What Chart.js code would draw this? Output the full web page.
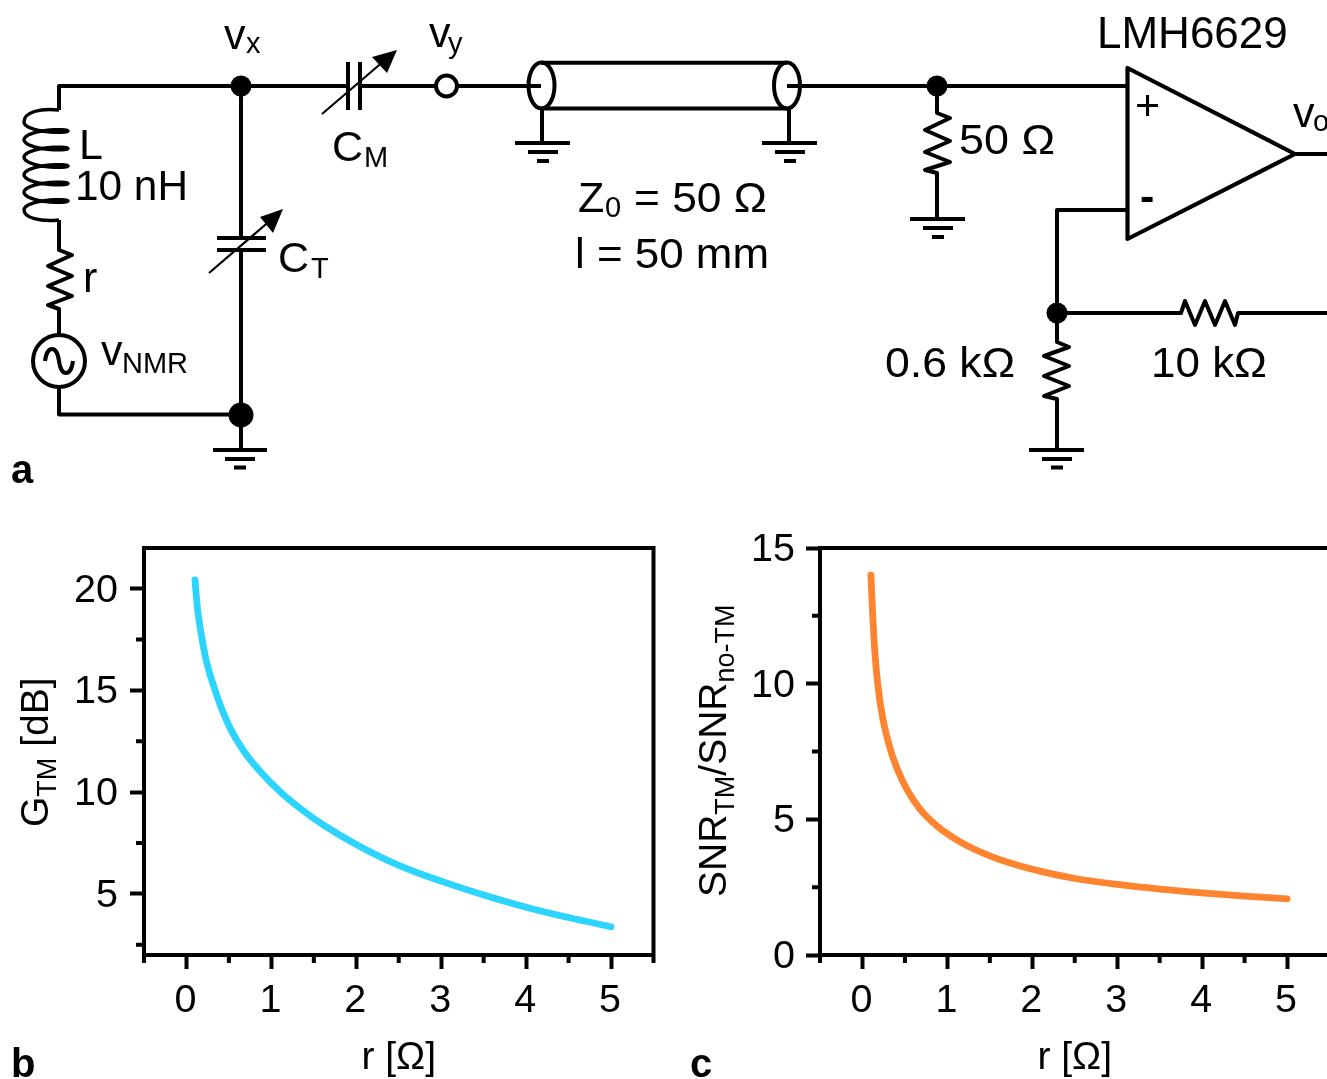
<!DOCTYPE html>
<html>
<head>
<meta charset="utf-8">
<script src="https://cdn.jsdelivr.net/npm/chart.js@4"></script>
<style>
html,body{margin:0;padding:0;background:#fff;width:1327px;height:1079px;overflow:hidden}
#stage{position:relative;width:1327px;height:1079px;overflow:hidden}
canvas{position:absolute}
#art{position:absolute;left:0;top:0;pointer-events:none}
#art text{font-family:"Liberation Sans",Arial,sans-serif;font-size:43px;fill:#000}
#art .w{fill:none;stroke:#000;stroke-width:4;stroke-linejoin:round}
#art .t{fill:none;stroke:#000;stroke-width:2.2}
#art .d{fill:#000;stroke:none}
#art text.s{font-size:29px}
#art text.p{font-size:40px;font-weight:bold}
#art text.y{font-size:39px}
</style>
</head>
<body>
<div id="stage">
<canvas id="chartB" width="680" height="579" style="left:0;top:500px"></canvas>
<canvas id="chartC" width="680" height="579" style="left:680px;top:500px"></canvas>
<svg id="art" width="1327" height="1079" viewBox="0 0 1327 1079" xmlns="http://www.w3.org/2000/svg">
  <!-- left loop -->
  <path class="w" d="M59 110 V86 H348 M360 86 H435 M458 86 H541"/>
  <path class="w" id="coil" style="stroke-width:3.4" d=""/>
  <path class="w" d="M59 220 V250 L72 255 L48 266 L72 276 L48 286 L72 296 L48 305 L59 309 V335"/>
  <circle class="w" cx="59" cy="361" r="26"/>
  <path class="w" d="M45 361 C47 345 57 345 59 361 C61 377 71 377 73 361"/>
  <path class="w" d="M59 387 V414.500 H241"/>
  <circle class="d" cx="241" cy="86" r="10.5"/>
  <circle class="d" cx="241" cy="415" r="12.5"/>
  <path class="w" d="M241 86 V238 M241 250 V450"/>
  <path class="w" d="M217 238 H266 M217 250 H266"/>
  <path class="t" d="M209 273 L272 219"/>
  <path class="d" d="M283 209 L260 217 L273 233 Z"/>
  <path class="w" d="M213 450 H267 M225 459 H255 M234 467.500 H246"/>
  <!-- matching capacitor -->
  <path class="w" d="M348 62 V110 M360 62 V110"/>
  <path class="t" d="M322 114 L385 60"/>
  <path class="d" d="M397 50 L372 57 L387 73 Z"/>
  <circle class="w" cx="446.500" cy="86" r="10.500"/>
  <!-- coax -->
  <ellipse class="w" cx="541.500" cy="85.500" rx="13" ry="23"/>
  <ellipse class="w" cx="787" cy="85.500" rx="13" ry="23"/>
  <path class="w" d="M541 62.800 H787 M541 108.400 H787"/>
  <path class="w" d="M787 86 H1127"/>
  <path class="w" d="M542 108 V143 M515 143 H570 M528 152 H558 M537 161 H549"/>
  <path class="w" d="M789 108 V143 M762 143 H817 M775 152 H805 M784 161 H796"/>
  <!-- 50 ohm -->
  <circle class="d" cx="937" cy="86" r="10.500"/>
  <path class="w" d="M937 86 V113 L950 118 L925 130 L950 141 L925 152 L950 162 L925 170 L937 173 V219 M910 219 H965 M923 228 H953 M932 237 H944"/>
  <!-- op-amp -->
  <path class="w" style="stroke-width:4.2" d="M1127.500 68 V239 L1295 154 Z"/>
  <path class="w" d="M1295 154 H1327 M1127 210 H1057 V313"/>
  <circle class="d" cx="1057" cy="313" r="10.500"/>
  <path class="w" d="M1057 313 H1181 L1185 301 L1195 325 L1205 301 L1215 325 L1225 301 L1235 325 L1238 313 H1327"/>
  <path class="w" d="M1057 313 V342 L1069 347 L1044 356 L1069 366 L1044 376 L1069 386 L1044 396 L1057 399 V450 M1029 450 H1084 M1042 459 H1072 M1051 467.500 H1063"/>
  <!-- labels -->
  <text x="224" y="49">v</text><text class="s" x="246" y="53">x</text>
  <text x="429" y="47">v</text><text class="s" x="448" y="53">y</text>
  <text x="332" y="161">C</text><text class="s" x="364" y="167">M</text>
  <text x="278" y="272">C</text><text class="s" x="311" y="278">T</text>
  <text x="79" y="159">L</text>
  <text x="75" y="200" textLength="113" lengthAdjust="spacingAndGlyphs">10 nH</text>
  <text x="83" y="292">r</text>
  <text x="101" y="365">v</text><text class="s" x="122" y="373">NMR</text>
  <text x="578" y="212">Z</text><text class="s" x="605" y="217">0</text><text x="634" y="212" textLength="133" lengthAdjust="spacingAndGlyphs">= 50 Ω</text>
  <text x="575" y="268" textLength="194" lengthAdjust="spacingAndGlyphs">l = 50 mm</text>
  <text x="1097" y="48" style="font-size:44px">LMH6629</text>
  <text x="1293" y="127">v</text><text class="s" x="1313" y="131">o</text>
  <text x="1135" y="120">+</text><text x="1140" y="211" style="font-weight:bold">-</text>
  <text x="959" y="154" textLength="96" lengthAdjust="spacingAndGlyphs">50 Ω</text>
  <text x="885" y="377" textLength="130" lengthAdjust="spacingAndGlyphs">0.6 kΩ</text>
  <text x="1151" y="377" textLength="116" lengthAdjust="spacingAndGlyphs">10 kΩ</text>
  <!-- panel letters -->
  <text class="p" x="11" y="483">a</text>
  <text class="p" x="11" y="1077">b</text>
  <text class="p" x="690" y="1077">c</text>
  <!-- y axis titles with subscripts -->
  <text class="y" transform="translate(48,827) rotate(-90)">G<tspan dy="8" style="font-size:27px">TM</tspan><tspan dy="-8"> [dB]</tspan></text>
  <text class="y" transform="translate(726,897) rotate(-90)">SNR<tspan dy="8" style="font-size:27px">TM</tspan><tspan dy="-8">/SNR</tspan><tspan dy="8" style="font-size:27px">no-TM</tspan></text>
</svg>
</div>
<script>
// Panel b: tuned-matching gain
const gainR  = [0.10,0.13,0.17,0.23,0.31,0.41,0.52,0.68,0.88,1.11,1.35,1.62,2.01,2.50,3.00,3.50,4.00,4.50,5.00];
const gainDb = [20.43,19.02,17.87,16.52,15.35,14.15,13.10,11.99,10.97,10.00,9.17,8.37,7.41,6.41,5.63,4.95,4.35,3.84,3.39];
// Panel c: SNR ratio
const snrR     = [0.10,0.12,0.145,0.18,0.23,0.31,0.40,0.53,0.68,0.88,1.15,1.47,1.78,2.09,2.50,3.00,3.50,4.00,4.50,5.00];
const snrRatio = [14.00,12.58,11.20,9.98,8.88,7.78,6.93,6.07,5.37,4.75,4.17,3.69,3.35,3.09,2.82,2.60,2.43,2.29,2.17,2.07];
// Axis ticks
const xMajor = [0,1,2,3,4,5];
const xMinor = [-0.5,0.5,1.5,2.5,3.5,4.5,5.5];
const yMajorB = [5,10,15,20];
const yMinorB = [2.5,7.5,12.5,17.5];
const yMajorC = [0,5,10,15];
const yMinorC = [2.5,7.5,12.5];
const xLabel = 'r [Ω]';
const gainColor = '#2CD4FF';
const snrColor = '#FF8430';

// coil (schematic only)
(function(){
  let d = 'M59 110 C40 108 24 112 24 122';
  for (let t = 0; t <= 10*Math.PI + 0.001; t += Math.PI/16) {
    const x = 46 - 22*Math.cos(t);
    const y = 131 + 17.5*(t-Math.PI)/(2*Math.PI) + 5*Math.sin(t);
    d += ' L'+x.toFixed(2)+' '+y.toFixed(2);
  }
  d += ' C24 218 40 222 59 220';
  document.getElementById('coil').setAttribute('d', d);
})();

const AXIS_W = 4;
const frameAndMinor = {
  id:'frameAndMinor',
  afterDraw(chart, args, opts){
    const {ctx, chartArea:a, scales:{x,y}} = chart;
    ctx.save();
    ctx.strokeStyle = '#000';
    ctx.lineWidth = AXIS_W;
    ctx.beginPath();
    ctx.moveTo(a.left,a.top); ctx.lineTo(a.right,a.top); ctx.lineTo(a.right,a.bottom);
    ctx.stroke();
    ctx.beginPath();
    opts.xMinor.forEach(v=>{const p=x.getPixelForValue(v); ctx.moveTo(p,a.bottom); ctx.lineTo(p,a.bottom+8);});
    opts.yMinor.forEach(v=>{const p=y.getPixelForValue(v); ctx.moveTo(a.left,p); ctx.lineTo(a.left-8,p);});
    ctx.stroke();
    ctx.restore();
  }
};

function makeChart(id, xs, ys, color, yMin, yMax, yMajor, yMinor, leftW, tickPad){
  const axisFont = {family:'"Liberation Sans", Arial, sans-serif', size:39.5};
  return new Chart(document.getElementById(id), {
    type:'scatter',
    data:{datasets:[{
      data: xs.map((v,i)=>({x:v,y:ys[i]})),
      showLine:true, pointRadius:0, borderColor:color, backgroundColor:color,
      borderWidth:6.8, borderCapStyle:'round', borderJoinStyle:'round',
      cubicInterpolationMode:'monotone', clip:false
    }]},
    plugins:[frameAndMinor],
    options:{
      responsive:false, animation:false, devicePixelRatio:1,
      layout:{padding:{top:48,right:680-leftW-509.5,left:0,bottom:0}},
      plugins:{legend:{display:false},tooltip:{enabled:false},title:{display:false},
        frameAndMinor:{xMinor:xMinor,yMinor:yMinor}},
      scales:{
        x:{type:'linear',bounds:'data',min:-0.5,max:5.5,
          afterBuildTicks:s=>{s.ticks=xMajor.map(v=>({value:v}));},
          afterFit:s=>{s.height=124;},
          grid:{drawOnChartArea:false,drawTicks:true,tickLength:14,tickWidth:AXIS_W,tickColor:'#000'},
          border:{display:true,color:'#000',width:AXIS_W},
          ticks:{font:axisFont,color:'#000',padding:8,labelOffset:-1,maxRotation:0,autoSkip:false,callback:v=>String(v)},
          title:{display:true,text:xLabel,color:'#000',font:{family:axisFont.family,size:39,lineHeight:1.05},padding:{top:0,bottom:0}}
        },
        y:{type:'linear',bounds:'data',min:yMin,max:yMax,
          afterBuildTicks:s=>{s.ticks=yMajor.map(v=>({value:v}));},
          afterFit:s=>{s.width=leftW;},
          grid:{drawOnChartArea:false,drawTicks:true,tickLength:14,tickWidth:AXIS_W,tickColor:'#000'},
          border:{display:true,color:'#000',width:AXIS_W},
          ticks:{font:axisFont,color:'#000',padding:tickPad,labelOffset:2,autoSkip:false,callback:v=>String(v)}
        }
      }
    }
  });
}
makeChart('chartB', gainR, gainDb, gainColor, 2, 22, yMajorB, yMinorB, 144, 12);
makeChart('chartC', snrR, snrRatio, snrColor, 0, 15, yMajorC, yMinorC, 140, 11);
</script>
</body>
</html>
